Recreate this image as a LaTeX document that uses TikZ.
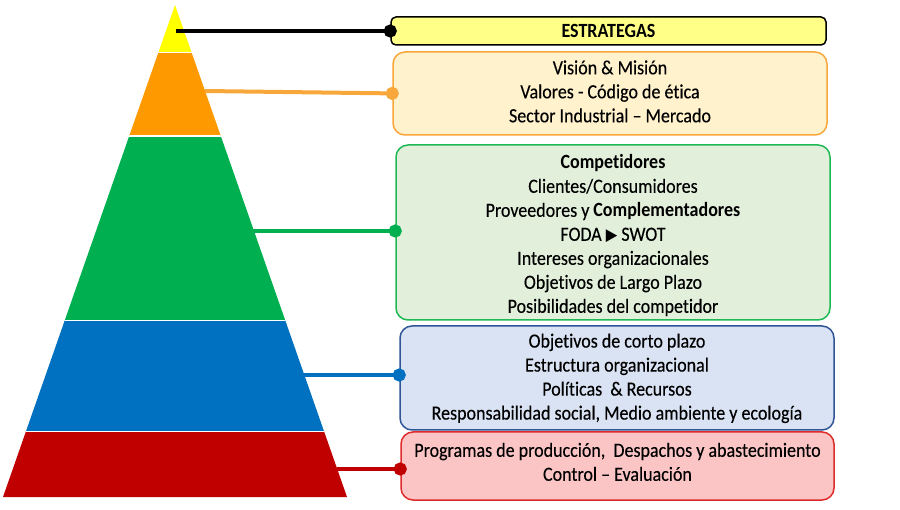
\documentclass[tikz,border=0pt]{standalone}
\usepackage{fontspec}
\setmainfont{Carlito}[Ligatures=NoCommon, UprightFeatures={FakeBold=0.25}]
\newfontfamily\symfont{DejaVu Sans}
\usetikzlibrary{arrows.meta}
\definecolor{pyY}{HTML}{FFFF00}
\definecolor{pyO}{HTML}{FF9900}
\definecolor{pyG}{HTML}{00B050}
\definecolor{pyB}{HTML}{0070C0}
\definecolor{pyR}{HTML}{C00000}
\definecolor{fY}{HTML}{FFFF88}
\definecolor{fO}{HTML}{FFF2CC}
\definecolor{dO}{HTML}{F8A73A}
\definecolor{fG}{HTML}{E2EFDA}
\definecolor{dG}{HTML}{1EB854}
\definecolor{fB}{HTML}{DAE3F3}
\definecolor{dB}{HTML}{2F5597}
\definecolor{fR}{HTML}{FCC5C5}
\definecolor{dR}{HTML}{DD2A2A}
\newcommand\boxlines[1]{\scalebox{1}[1.12]{\fontsize{18}{21.43}\selectfont\begin{tabular}{@{}c@{}}#1\end{tabular}}}
\tikzset{
  boxshape/.style={draw=#1, line width=1.5pt, rounded corners=12pt, inner sep=0pt},
  txt/.style={align=center, text=black, inner sep=0pt},
  conn/.style={draw=#1, line width=4pt, -{Circle[length=13pt, fill=#1]}},
}
\begin{document}
\begin{tikzpicture}[x=1pt, y=-1pt]
\useasboundingbox (0,0) rectangle (900,510);
% pyramid
\begin{scope}
  \clip (175,5) -- (347,497) -- (3,497) -- cycle;
  \fill[pyY] (0,0) rectangle (900,52.5);
  \fill[pyO] (0,52.5) rectangle (900,136);
  \fill[pyG] (0,136) rectangle (900,320.5);
  \fill[pyB] (0,320.5) rectangle (900,431.5);
  \fill[pyR] (0,431.5) rectangle (900,510);
  \draw[white, line width=1.5pt] (0,52.5) -- (900,52.5) (0,136) -- (900,136)
     (0,320.5) -- (900,320.5) (0,431.5) -- (900,431.5);
\end{scope}
% boxes
\node[boxshape=black, fill=fY, rounded corners=5pt, minimum width=435pt, minimum height=28pt] (ybox) at (608.5,31) {};
\node[txt] (ytxt) at (608.5,33) {\boxlines{\bfseries ESTRATEGAS}};

\node[boxshape=dO, fill=fO, minimum width=434pt, minimum height=83pt] (obox) at (610,93.5) {};
\node[txt] (otxt) at (610,93.5) {\boxlines{Visión \& Misión\\Valores - Código de ética\\Sector Industrial – Mercado}};

\node[boxshape=dG, fill=fG, minimum width=434pt, minimum height=175pt] (gbox) at (613,232.5) {};
\node[txt] (gtxt) at (613,236) {\boxlines{\textbf{Competidores}\\Clientes/Consumidores\\Proveedores y \textbf{Complementadores}\\FODA {\symfont\fontsize{15}{20}\selectfont ▶} SWOT\\Intereses organizacionales\\Objetivos de Largo Plazo\\Posibilidades del competidor}};

\node[boxshape=dB, fill=fB, minimum width=434pt, minimum height=104pt] (bbox) at (617,378) {};
\node[txt] (btxt) at (617,378.8) {\boxlines{Objetivos de corto plazo\\Estructura organizacional\\Políticas~ \& Recursos\\Responsabilidad social, Medio ambiente y ecología}};

\node[boxshape=dR, fill=fR, minimum width=433pt, minimum height=68pt] (rbox) at (617.5,466) {};
\node[txt] (rtxt) at (617.5,464) {\boxlines{Programas de producción,~ Despachos y abastecimiento\\Control – Evaluación}};

% connector start points
\coordinate (y0) at (176,31);
\coordinate (o0) at (205,91);
\coordinate (g0) at (253,231);
\coordinate (b0) at (303,375);
\coordinate (r0) at (337,469);
\draw[conn=black] (y0) -- ([xshift=6.5pt]y0 -| ybox.west);
\draw[conn=dO] (o0) -- ([xshift=6.5pt]obox.west);
\draw[conn=pyG] (g0) -- ([xshift=6.5pt]g0 -| gbox.west);
\draw[conn=pyB] (b0) -- ([xshift=6.5pt]b0 -| bbox.west);
\draw[conn=pyR] (r0) -- ([xshift=6.5pt]r0 -| rbox.west);
\end{tikzpicture}
\end{document}
